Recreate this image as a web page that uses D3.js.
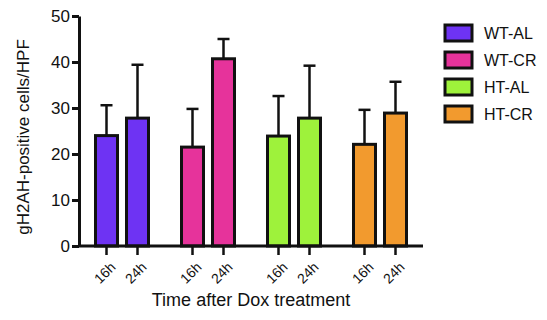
<!DOCTYPE html>
<html>
<head>
<meta charset="utf-8">
<script src="https://cdn.jsdelivr.net/npm/d3@7"></script>
<style>
  body { margin: 0; background: #fff; }
  text { font-family: "Liberation Sans", Arial, sans-serif; fill: #111; }
</style>
</head>
<body>
<svg width="547" height="320"></svg>
<script>
var groups = ["WT-AL", "WT-CR", "HT-AL", "HT-CR"];
var times = ["16h", "24h"];
var means = [[24.0, 27.8], [21.5, 40.7], [23.9, 27.8], [22.1, 28.9]];
var errTops = [[30.6, 39.4], [29.8, 45.0], [32.6, 39.2], [29.6, 35.7]];
var yTicks = [0, 10, 20, 30, 40, 50];
var colors = ["#6e33f3", "#e6339b", "#9ef23b", "#f29a2e"];

var svg = d3.select("svg");

var x0 = d3.scaleBand().domain(groups).range([79, 423]).padding(0);
var x1 = d3.scalePoint().domain(times).range([-15.5, 15.5]);
var y = d3.scaleLinear().domain([0, 50]).range([246, 16]);
var barW = 22;

var data = [];
groups.forEach(function(g, i) {
  times.forEach(function(t, j) {
    data.push({ group: g, time: t, value: means[i][j], err: errTops[i][j], color: colors[i] });
  });
});
function cx(d) { return x0(d.group) + x0.bandwidth() / 2 + x1(d.time); }

// error bars (drawn first so the bar covers the lower part)
svg.selectAll(".err").data(data).enter().append("line")
  .attr("x1", cx).attr("x2", cx)
  .attr("y1", function(d) { return y(d.value); })
  .attr("y2", function(d) { return y(d.err); })
  .attr("stroke", "#111").attr("stroke-width", 2.5);
svg.selectAll(".cap").data(data).enter().append("line")
  .attr("x1", function(d) { return cx(d) - 6; })
  .attr("x2", function(d) { return cx(d) + 6; })
  .attr("y1", function(d) { return y(d.err); })
  .attr("y2", function(d) { return y(d.err); })
  .attr("stroke", "#111").attr("stroke-width", 2.5);

svg.selectAll(".bar").data(data).enter().append("rect")
  .attr("x", function(d) { return cx(d) - barW / 2; })
  .attr("y", function(d) { return y(d.value); })
  .attr("width", barW)
  .attr("height", function(d) { return y(0) - y(d.value); })
  .attr("fill", function(d) { return d.color; })
  .attr("stroke", "#111").attr("stroke-width", 3);

// y axis
var yAxis = svg.append("g")
  .attr("transform", "translate(79,0)")
  .call(d3.axisLeft(y).tickValues(yTicks).tickSize(7).tickSizeOuter(0).tickPadding(2));
yAxis.select(".domain").attr("stroke", "#111").attr("stroke-width", 3);
yAxis.selectAll(".tick line").attr("stroke", "#111").attr("stroke-width", 3);
yAxis.selectAll(".tick text").attr("font-size", 17).attr("fill", "#111")
  .style("font-family", "Liberation Sans, Arial, sans-serif");

// x axis
svg.append("line")
  .attr("x1", 78).attr("x2", 423)
  .attr("y1", y(0)).attr("y2", y(0))
  .attr("stroke", "#111").attr("stroke-width", 3);
svg.selectAll(".xtick").data(data).enter().append("line")
  .attr("x1", cx).attr("x2", cx)
  .attr("y1", y(0)).attr("y2", y(0) + 9)
  .attr("stroke", "#111").attr("stroke-width", 2.5);
svg.selectAll(".xlab").data(data).enter().append("text")
  .attr("transform", function(d) { return "translate(" + (cx(d) + 3) + "," + 261 + ") rotate(-45)"; })
  .attr("text-anchor", "end")
  .attr("dy", "0.7em")
  .attr("font-size", 14)
  .text(function(d) { return d.time; });

// axis titles
svg.append("text")
  .attr("x", 251).attr("y", 306)
  .attr("text-anchor", "middle")
  .attr("font-size", 18)
  .text("Time after Dox treatment");
svg.append("text")
  .attr("transform", "translate(29,137) rotate(-90)")
  .attr("text-anchor", "middle")
  .attr("font-size", 17)
  .text("gH2AH-positive cells/HPF");

// legend
var leg = svg.selectAll(".leg").data(groups).enter().append("g")
  .attr("transform", function(d, i) { return "translate(445," + (25 + i * 27) + ")"; });
leg.append("rect")
  .attr("width", 27).attr("height", 16)
  .attr("fill", function(d, i) { return colors[i]; })
  .attr("stroke", "#111").attr("stroke-width", 3);
leg.append("text")
  .attr("x", 39).attr("y", 8).attr("dy", "0.36em")
  .attr("font-size", 16)
  .text(function(d) { return d; });
</script>
</body>
</html>
